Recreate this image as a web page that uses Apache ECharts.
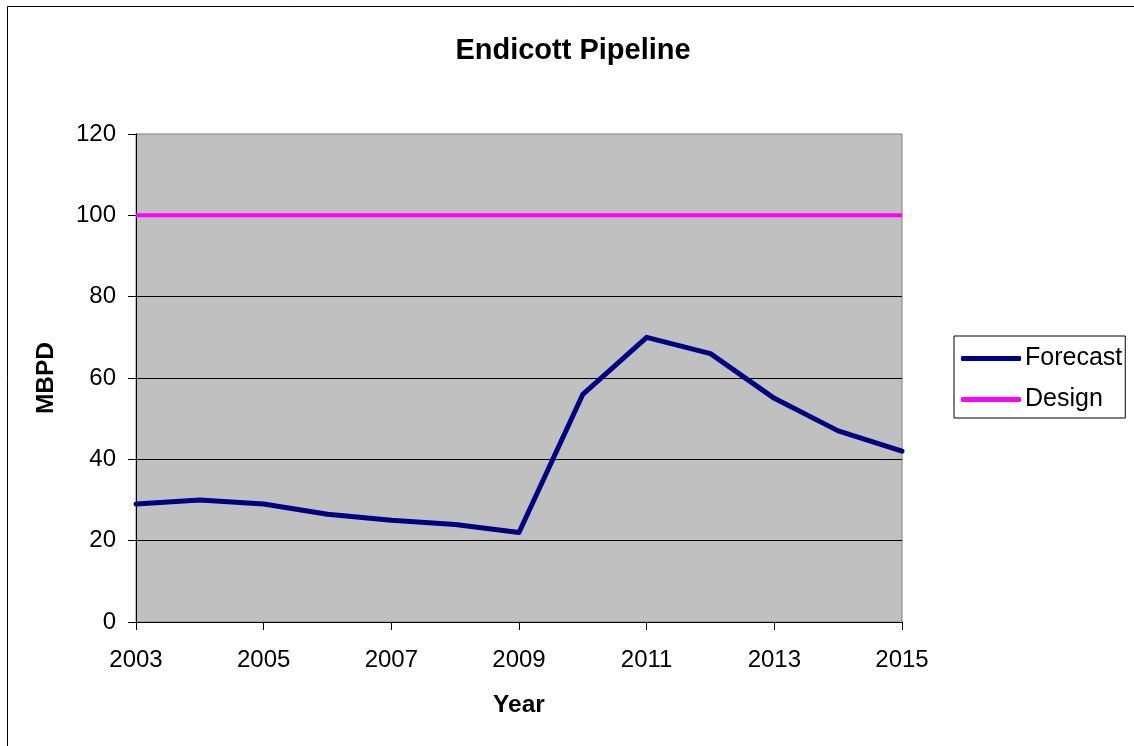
<!DOCTYPE html>
<html><head><meta charset="utf-8">
<script src="https://cdn.jsdelivr.net/npm/echarts@6/dist/echarts.min.js"></script>
<style>html,body{margin:0;padding:0;background:#fff}#c{width:1134px;height:746px}</style>
</head><body><div id="c"></div>
<script>
const years = ['2003','2004','2005','2006','2007','2008','2009','2010','2011','2012','2013','2014','2015'];
const forecast = [29, 30, 29, 26.5, 25, 24, 22, 56, 70, 66, 55, 47, 42];
const design = [100, 100, 100, 100, 100, 100, 100, 100, 100, 100, 100, 100, 100];
const yTicks = [0, 20, 40, 60, 80, 100, 120];

const FONT = '"Liberation Sans", Arial, sans-serif';
const chart = echarts.init(document.getElementById('c'), null, {renderer: 'canvas'});
chart.setOption({
  animation: false,
  backgroundColor: '#fff',
  textStyle: {fontFamily: FONT, color: '#000'},
  title: {
    text: 'Endicott Pipeline', left: 573, top: 36, padding: 0, textAlign: 'center',
    textStyle: {fontFamily: FONT, fontWeight: 'bold', fontSize: 29, color: '#000'}
  },
  graphic: [{
    type: 'rect', silent: true, z: -1,
    shape: {x: 7.5, y: 6.5, width: 1300, height: 1000},
    style: {fill: 'none', stroke: '#000', lineWidth: 1}
  }],
  legend: {
    left: 954, top: 336, orient: 'vertical',
    padding: [10, 3, 6, 7], itemGap: 16, itemWidth: 60, itemHeight: 5,
    borderColor: '#000', borderWidth: 1, backgroundColor: '#fff',
    textStyle: {fontFamily: FONT, fontSize: 25, color: '#000', padding: [0, 0, 0, -1]},
    data: [
      {name: 'Forecast', icon: 'roundRect'},
      {name: 'Design', icon: 'roundRect'}
    ]
  },
  grid: {
    left: 136, right: 232, top: 134, bottom: 124, containLabel: false,
    show: true, backgroundColor: '#C0C0C0', borderColor: '#808080', borderWidth: 1
  },
  xAxis: {
    type: 'category', data: years, boundaryGap: false,
    name: 'Year', nameLocation: 'middle', nameGap: 71,
    nameTextStyle: {fontFamily: FONT, fontWeight: 'bold', fontSize: 24.5, color: '#000'},
    axisLine: {lineStyle: {color: '#000', width: 1}},
    axisTick: {show: true, interval: 1, length: 8, inside: false, lineStyle: {color: '#000'}},
    axisLabel: {interval: 1, fontFamily: FONT, fontSize: 24, color: '#000', margin: 26},
    splitLine: {show: false}
  },
  yAxis: {
    type: 'value', min: yTicks[0], max: yTicks[yTicks.length - 1], interval: 20,
    name: 'MBPD', nameLocation: 'middle', nameGap: 77, nameRotate: 90,
    nameTextStyle: {fontFamily: FONT, fontWeight: 'bold', fontSize: 24.5, color: '#000'},
    axisLine: {show: true, lineStyle: {color: '#000', width: 1}},
    axisTick: {show: true, length: 8, inside: false, lineStyle: {color: '#000'}},
    axisLabel: {fontFamily: FONT, fontSize: 24, color: '#000', margin: 20},
    splitLine: {show: true, showMinLine: false, showMaxLine: false, lineStyle: {color: '#000', width: 1}}
  },
  series: [
    {name: 'Forecast', type: 'line', data: forecast, showSymbol: false, symbol: 'none',
     color: '#000080', lineStyle: {color: '#000080', width: 5, cap: 'round', join: 'round'}, z: 3},
    {name: 'Design', type: 'line', data: design, showSymbol: false, symbol: 'none',
     color: '#FF00FF', lineStyle: {color: '#FF00FF', width: 4}, z: 2}
  ]
});
</script></body></html>
